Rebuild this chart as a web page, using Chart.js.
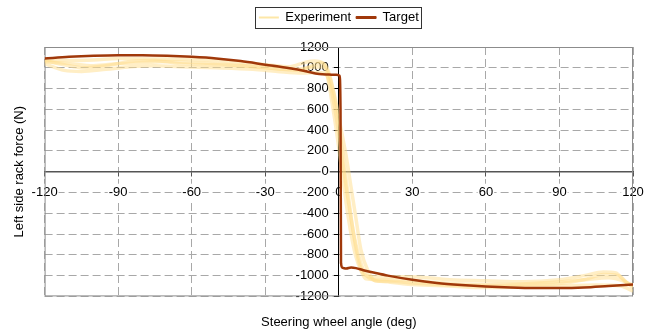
<!DOCTYPE html>
<html>
<head>
<meta charset="utf-8">
<script src="https://cdn.jsdelivr.net/npm/chart.js@4.4.0/dist/chart.umd.min.js"></script>
<style>
  body { margin: 0; background: #fff; }
  canvas { display: block; }
</style>
</head>
<body>
<canvas id="rackChart" width="660" height="334"></canvas>
<script>
// steering wheel angle (deg) and rack force (N)
var targetAngle = [-120, -110, -100, -90, -80, -70, -60, -50, -40, -30, -20, -14, -8, -4, -1, 0.3, 0.7, 0.9, 1.5, 3, 5, 7, 10, 15, 20, 30, 40, 50, 60, 70, 80, 90, 100, 110, 120];
var targetForce = [1090, 1105, 1115, 1120, 1120, 1115, 1105, 1090, 1065, 1030, 995, 970, 940, 935, 932, 925, 600, -880, -925, -932, -922, -928, -948, -975, -1000, -1040, -1070, -1090, -1105, -1115, -1120, -1120, -1115, -1100, -1085];

// experiment: four measured sweeps
var expAngle1 = [-120, -112, -100, -90, -75, -60, -45, -30, -20, -14, -10, -6, -4, -2, 0, 2, 4, 6, 8, 10, 13, 30, 45, 60, 75, 90, 100, 108, 113, 117, 120];
var expForce1 = [1075, 1070, 1075, 1090, 1085, 1080, 1060, 1030, 1010, 1050, 1065, 1040, 950, 750, 450, 100, -250, -600, -850, -980, -1010, -1010, -1040, -1050, -1060, -1040, -1000, -965, -975, -1060, -1090];
var expAngle2 = [-120, -112, -105, -95, -85, -75, -65, -50, -35, -25, -15, -8, -5, -3, -1, 1, 3, 5, 7, 9, 11, 14, 20, 30, 45, 60, 75, 90, 105, 115, 120];
var expForce2 = [1040, 975, 965, 985, 1010, 1020, 1010, 1000, 985, 965, 950, 955, 930, 780, 520, 200, -150, -450, -700, -880, -990, -1040, -1060, -1085, -1100, -1115, -1110, -1100, -1090, -1100, -1150];
var expAngle3 = [-120, -110, -100, -90, -80, -70, -60, -45, -30, -20, -12, -7, -5, -3, -1, 1, 3, 5, 7, 9, 11, 20, 30, 45, 60, 75, 90, 100, 110, 116, 120];
var expForce3 = [1060, 1040, 1020, 1040, 1050, 1060, 1050, 1030, 1000, 985, 1000, 1010, 960, 700, 400, 50, -300, -600, -820, -950, -1030, -1040, -1050, -1075, -1085, -1080, -1060, -1040, -1020, -1050, -1100];
var expAngle4 = [-120, -112, -104, -95, -85, -75, -65, -50, -35, -25, -16, -10, -7, -5, -3, -1, 1, 3, 5, 7, 9, 12, 15, 20, 30, 45, 60, 75, 90, 100, 108, 114, 118, 120];
var expForce4 = [1070, 1030, 1000, 1020, 1060, 1070, 1040, 1030, 1015, 990, 975, 1030, 1045, 990, 850, 650, 400, 150, -150, -450, -750, -960, -1050, -1055, -1070, -1090, -1095, -1090, -1075, -1040, -990, -1000, -1080, -1120];

var xTicks = [-120, -90, -60, -30, 0, 30, 60, 90, 120];
var yTicks = [-1200, -1000, -800, -600, -400, -200, 0, 200, 400, 600, 800, 1000, 1200];

var targetColor = "#a0380a";
var expColor = "rgba(255, 222, 140, 0.5)";
var expLegendColor = "#fde7a8";

function toPoints(xs, ys) {
    var pts = [];
    for (var i = 0; i < xs.length; i++) {
        pts.push({ x: xs[i], y: ys[i] });
    }
    return pts;
}

function expDataset(xs, ys) {
    return {
        label: "Experiment",
        data: toPoints(xs, ys),
        borderColor: expColor,
        borderWidth: 3.5,
        pointRadius: 0,
        cubicInterpolationMode: "monotone",
        order: 1
    };
}

// plot frame + legend border
var framePlugin = {
    id: "frame",
    beforeDatasetsDraw: function (chart) {
        var a = chart.chartArea;
        var ctx = chart.ctx;
        ctx.save();
        ctx.strokeStyle = "#8c8c8c";
        ctx.lineWidth = 1;
        ctx.strokeRect(a.left + 0.5, a.top + 0.5, a.right - a.left - 1, a.bottom - a.top - 1);
        ctx.restore();
    },
    afterDraw: function (chart) {
        var boxes = chart.legend.legendHitBoxes;
        if (!boxes || !boxes.length) return;
        var l = boxes[0].left, r = 0, t = boxes[0].top, b = 0;
        boxes.forEach(function (h) {
            l = Math.min(l, h.left);
            r = Math.max(r, h.left + h.width);
            t = Math.min(t, h.top);
            b = Math.max(b, h.top + h.height);
        });
        var ctx = chart.ctx;
        ctx.save();
        ctx.strokeStyle = "#333";
        ctx.lineWidth = 1;
        ctx.strokeRect(Math.round(l - 4) + 0.5, Math.round(t - 4) + 0.5, Math.round(r - l + 6), Math.round(b - t + 8));
        ctx.restore();
    }
};

function plainLabel(v) { return String(v); }

var ctx = document.getElementById("rackChart").getContext("2d");
var chart = new Chart(ctx, {
    type: "line",
    data: {
        datasets: [
            {
                label: "Target",
                data: toPoints(targetAngle, targetForce),
                borderColor: targetColor,
                borderWidth: 2.5,
                pointRadius: 0,
                cubicInterpolationMode: "monotone",
                order: 0
            },
            expDataset(expAngle1, expForce1),
            expDataset(expAngle2, expForce2),
            expDataset(expAngle3, expForce3),
            expDataset(expAngle4, expForce4)
        ]
    },
    options: {
        responsive: false,
        animation: false,
        layout: { padding: { top: 6, right: 27, left: 0, bottom: 0 } },
        font: { family: "'Liberation Sans', Arial, sans-serif", size: 13 },
        color: "#000",
        plugins: {
            legend: {
                position: "top",
                fullSize: false,
                labels: {
                    boxWidth: 20,
                    boxHeight: 2,
                    padding: 5,
                    color: "#000",
                    font: { size: 13 },
                    generateLabels: function () {
                        return [
                            { text: "Experiment", fillStyle: expLegendColor, strokeStyle: expLegendColor, lineWidth: 0, datasetIndex: 1, fontColor: "#000" },
                            { text: "Target", fillStyle: targetColor, strokeStyle: targetColor, lineWidth: 1, datasetIndex: 0, fontColor: "#000" }
                        ];
                    }
                }
            },
            title: {
                display: true,
                position: "left",
                fullSize: false,
                text: "Left side rack force (N)",
                color: "#000",
                font: { size: 13, weight: "normal" },
                padding: { top: 12, bottom: 17 }
            },
            subtitle: {
                display: true,
                position: "bottom",
                fullSize: false,
                text: "Steering wheel angle (deg)",
                color: "#000",
                font: { size: 13 },
                padding: { top: 18, bottom: 4 }
            },
            tooltip: { enabled: false }
        },
        scales: {
            x: {
                type: "linear",
                position: "center",
                min: -120,
                max: 120,
                afterBuildTicks: function (scale) {
                    scale.ticks = xTicks.map(function (v) { return { value: v }; });
                },
                ticks: {
                    color: "#000",
                    font: { size: 13 },
                    padding: 9,
                    maxRotation: 0,
                    autoSkip: false,
                    callback: plainLabel,
                    showLabelBackdrop: true,
                    backdropColor: "#fff",
                    backdropPadding: 1
                },
                grid: { color: "#a8a8a8", tickLength: 4, tickColor: "#555" },
                border: { color: "#555", width: 1.5, dash: [8, 4] }
            },
            y: {
                type: "linear",
                position: "center",
                min: -1200,
                max: 1200,
                afterBuildTicks: function (scale) {
                    scale.ticks = yTicks.map(function (v) { return { value: v }; });
                },
                ticks: {
                    color: "#000",
                    font: { size: 13 },
                    padding: 6,
                    autoSkip: false,
                    callback: plainLabel,
                    showLabelBackdrop: true,
                    backdropColor: "#fff",
                    backdropPadding: 1
                },
                grid: { color: "#a8a8a8", tickLength: 4, tickColor: "#000" },
                border: { color: "#000", width: 1, dash: [8, 4] }
            },
            spacer: {
                type: "linear",
                axis: "x",
                position: "top",
                ticks: { display: false },
                grid: { display: false },
                border: { display: false },
                afterFit: function (scale) { scale.height = 13; }
            }
        }
    },
    plugins: [framePlugin]
});
</script>
</body>
</html>
